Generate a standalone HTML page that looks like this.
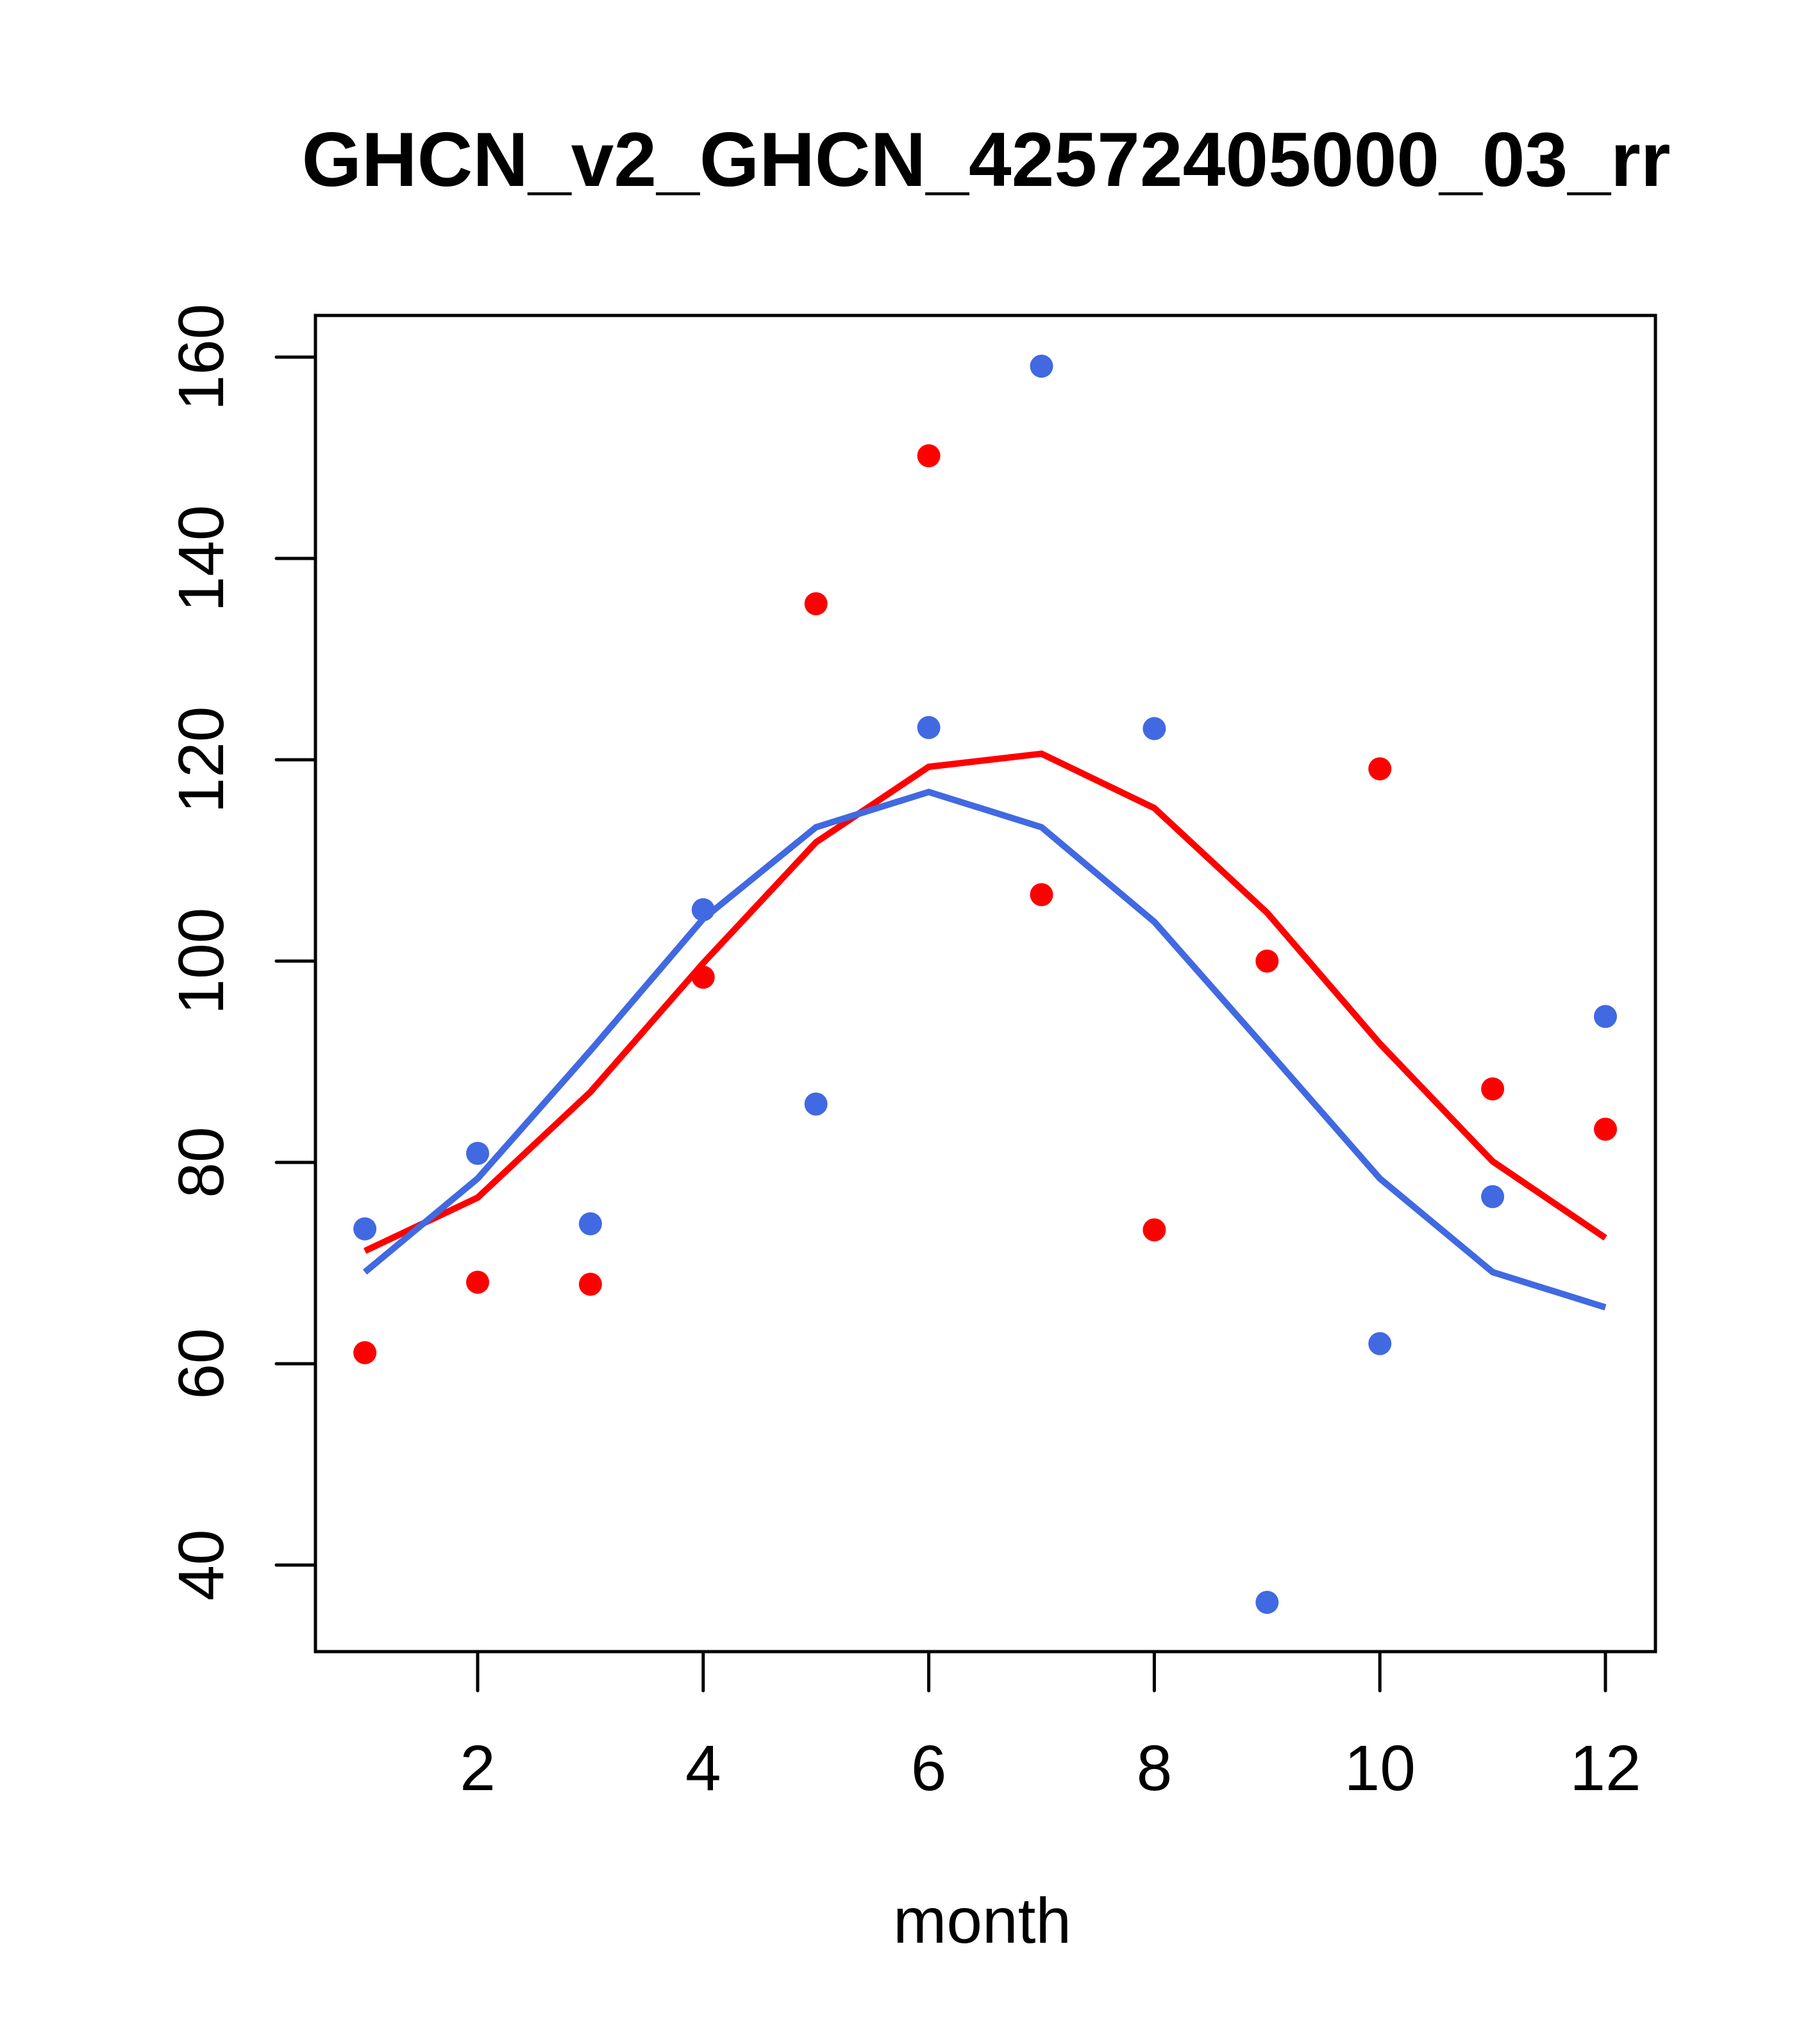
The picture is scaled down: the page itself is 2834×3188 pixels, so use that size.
<!DOCTYPE html>
<html><head><meta charset="utf-8"><style>html,body{margin:0;padding:0;background:#fff}svg{display:block}</style></head>
<body>
<svg id="chart" width="2834" height="3188" viewBox="0 0 2834 3188" xmlns="http://www.w3.org/2000/svg" font-family="Liberation Sans, Arial, sans-serif">
<rect width="2834" height="3188" fill="#fff"/>
<text x="1538" y="290" font-size="120" font-weight="bold" text-anchor="middle">GHCN_v2_GHCN_42572405000_03_rr</text>
<text x="1532" y="3030" font-size="100" text-anchor="middle">month</text>
<rect x="492" y="492" width="2090" height="2084" fill="none" stroke="#000" stroke-width="5"/>
<g id="axes"></g><g id="lines"></g><g id="points"></g>
</svg>
<script>
const months=[1,2,3,4,5,6,7,8,9,10,11,12];
const redPoints=[61.1,68.1,67.9,98.4,135.5,150.2,106.6,73.3,100,119.1,87.3,83.3];
const bluePoints=[73.4,80.9,73.9,105.1,85.8,123.2,159.1,123.1,36.3,62,76.6,94.5];
const redLine=[71.2,76.5,87,99.8,111.8,119.3,120.6,115.2,104.8,91.8,80.1,72.5];
const blueLine=[69.1,78.4,91.1,104.2,113.3,116.8,113.3,103.9,91.2,78.4,69.1,65.6];
const xTicks=[2,4,6,8,10,12];
const yTicks=[40,60,80,100,120,140,160];
const NS='http://www.w3.org/2000/svg';
function sx(m){return 745+(m-2)*(2504-745)/10;}
function sy(v){return 2441-(v-40)*(2441-557)/120;}
function mk(tag,attrs,parent){const e=document.createElementNS(NS,tag);for(const k in attrs)e.setAttribute(k,attrs[k]);document.getElementById(parent).appendChild(e);return e;}
xTicks.forEach(t=>{
 const l=mk('line',{x1:sx(t),x2:sx(t),y1:2576,y2:2637,stroke:'#000','stroke-width':5,'stroke-linecap':'round'},'axes');
 
 
 const tx=mk('text',{x:sx(t),y:2792,'font-size':100,'text-anchor':'middle'},'axes');tx.textContent=t;
 
 
});
yTicks.forEach(t=>{
 const l=mk('line',{x1:431,x2:492,y1:sy(t),y2:sy(t),stroke:'#000','stroke-width':5,'stroke-linecap':'round'},'axes');
 
 
 const tx=mk('text',{x:348,y:sy(t),'font-size':100,'text-anchor':'middle',transform:'rotate(-90 348 '+sy(t)+')'},'axes');tx.textContent=t;
 
 
});
function line(vals,col,name){
 const p=mk('polyline',{points:vals.map((v,i)=>sx(months[i])+','+sy(v)).join(' '),fill:'none',stroke:col,'stroke-width':10},'lines');
 
 
}
line(redLine,'#ff0000','red-line');
line(blueLine,'#4169e1','blue-line');
function pts(vals,col,name){
 vals.forEach((v,i)=>{
  const c=mk('circle',{cx:sx(months[i]),cy:sy(v),r:18,fill:col},'points');
  
  
 });
}
pts(redPoints,'#ff0000','red-point');
pts(bluePoints,'#4169e1','blue-point');
</script>
</body></html>
